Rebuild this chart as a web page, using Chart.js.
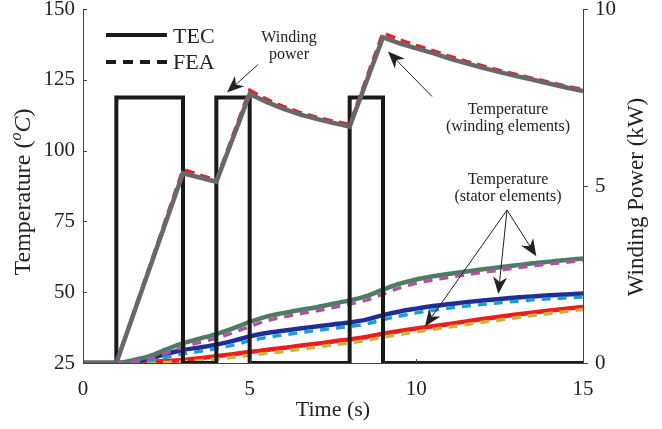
<!DOCTYPE html>
<html>
<head>
<meta charset="utf-8">
<script src="https://cdn.jsdelivr.net/npm/chart.js@4.4.1/dist/chart.umd.min.js"></script>
<style>
  html, body { margin: 0; padding: 0; background: #fff; }
</style>
</head>
<body>
<canvas id="chart" width="662" height="429"></canvas>
<script>
// winding power (kW), stepped
const powerTime = [0, 1, 3, 4, 5, 8, 9, 15];
const powerKW   = [0, 7.5, 0, 7.5, 0, 7.5, 0, 0];

// winding element temperature
const windTime = [0, 1, 3, 4, 5, 5.5, 6, 6.5, 7, 7.5, 8, 9, 9.5, 10, 10.5, 11, 11.5, 12, 12.5, 13, 13.5, 14, 14.5, 15];
const windTEC  = [25, 25, 92, 89, 120, 117.2, 114.8, 112.8, 111.2, 109.8, 108.5, 140, 137.9, 136.1, 134.4, 132.5, 130.8, 129.2, 127.7, 126.3, 125, 123.6, 122.3, 121];
const windFEA  = [25, 25, 93.3, 89.5, 121.3, 118.2, 115.6, 113.5, 111.8, 110.4, 109.2, 141.6, 139.1, 137.1, 135.3, 133.3, 131.5, 129.9, 128.3, 126.9, 125.5, 124.1, 122.8, 121.5];

// stator element temperatures
const statorTime = [0, 1, 1.5, 2, 2.5, 3, 3.5, 4, 4.5, 5, 5.5, 6, 6.5, 7, 7.5, 8, 8.5, 9, 9.5, 10, 10.5, 11, 11.5, 12, 12.5, 13, 13.5, 14, 14.5, 15];
const stator1TEC = [25, 25, 26, 27.4, 29.8, 32, 33.6, 35.2, 37.2, 39.5, 41.4, 42.6, 43.7, 44.7, 45.9, 47.1, 48.6, 50.9, 53, 54.5, 55.6, 56.5, 57.3, 58.1, 58.8, 59.5, 60.2, 60.8, 61.4, 61.9];
const stator1FEA = [25, 25, 25.6, 26.6, 28.5, 30.6, 32.3, 33.8, 35.7, 37.9, 39.9, 41.2, 42.4, 43.4, 44.6, 45.8, 47.2, 49.3, 51.5, 53.1, 54.3, 55.3, 56.2, 57, 57.8, 58.6, 59.3, 60, 60.6, 61.2];
const stator2TEC = [25, 25, 25.6, 26.6, 28.2, 29.6, 30.5, 31.5, 32.8, 34.4, 35.6, 36.4, 37.2, 37.9, 38.6, 39.3, 40.3, 41.9, 43.2, 44.2, 45.1, 45.8, 46.5, 47.1, 47.6, 48.1, 48.5, 48.9, 49.2, 49.5];
const stator2FEA = [25, 25, 25.3, 25.9, 27, 28.2, 29.1, 30.1, 31.3, 32.8, 34, 34.9, 35.7, 36.5, 37.2, 37.9, 38.8, 40.3, 41.6, 42.7, 43.6, 44.4, 45.1, 45.7, 46.3, 46.8, 47.3, 47.7, 48, 48.3];
const stator3TEC = [25, 25, 25.2, 25.4, 25.7, 26.1, 26.7, 27.4, 28.1, 28.9, 29.6, 30.3, 31.1, 31.8, 32.6, 33.3, 34.2, 35.3, 36.3, 37.2, 38, 38.8, 39.7, 40.5, 41.3, 42.1, 42.8, 43.5, 44.2, 44.8];
const stator3FEA = [25, 25, 25, 25.1, 25.2, 25.4, 25.8, 26.4, 27, 27.7, 28.4, 29.1, 29.9, 30.6, 31.4, 32.1, 33, 34.1, 35.1, 36, 36.9, 37.7, 38.6, 39.4, 40.2, 41, 41.8, 42.5, 43.2, 43.9];

const xTicks = [0, 5, 10, 15];
const tempTicks = [25, 50, 75, 100, 125, 150];
const powerTicks = [0, 5, 10];

const SERIF = "'Liberation Serif', 'DejaVu Serif', serif";
const INK = '#222';

function pts(xs, ys) {
    return xs.map((v, i) => ({x: v, y: ys[i]}));
}

function line(data, color, width, dash, axis, order, smooth) {
    return {
        data: data,
        borderColor: color,
        borderWidth: width,
        borderDash: dash || [],
        pointRadius: 0,
        fill: false,
        yAxisID: axis,
        order: order,
        tension: smooth ? 0.3 : 0,
        cubicInterpolationMode: smooth ? 'monotone' : 'default'
    };
}

function arrow(ctx, x1, y1, x2, y2) {
    let ang = Math.atan2(y2 - y1, x2 - x1);
    let len = 17, half = 7, back = 5;
    ctx.beginPath();
    ctx.moveTo(x1, y1);
    ctx.lineTo(x2 - Math.cos(ang) * (len - back), y2 - Math.sin(ang) * (len - back));
    ctx.lineWidth = 1;
    ctx.strokeStyle = INK;
    ctx.stroke();
    ctx.save();
    ctx.translate(x2, y2);
    ctx.rotate(ang);
    ctx.beginPath();
    ctx.moveTo(0, 0);
    ctx.lineTo(-len, -half);
    ctx.lineTo(-len + back, 0);
    ctx.lineTo(-len, half);
    ctx.closePath();
    ctx.fillStyle = INK;
    ctx.fill();
    ctx.restore();
}

const decorations = {
    id: 'decorations',
    afterDraw(chart) {
        const ctx = chart.ctx;
        const a = chart.chartArea;
        const x = chart.scales.x, y = chart.scales.y, y2 = chart.scales.y2;
        const px = (t) => x.getPixelForValue(t);
        const py = (v) => y.getPixelForValue(v);
        ctx.save();

        // tick marks: inward on left and bottom, outward on right
        ctx.strokeStyle = '#444';
        ctx.lineWidth = 1;
        ctx.beginPath();
        for (let v of tempTicks) {
            let yy = Math.round(py(v)) + 0.5;
            ctx.moveTo(a.left, yy); ctx.lineTo(a.left + 4, yy);
        }
        for (let v of xTicks) {
            let xx = Math.round(px(v)) + 0.5;
            ctx.moveTo(xx, a.bottom); ctx.lineTo(xx, a.bottom - 4);
        }
        for (let v of powerTicks) {
            let yy = Math.round(y2.getPixelForValue(v)) + 0.5;
            ctx.moveTo(a.right, yy); ctx.lineTo(a.right + 5, yy);
        }
        ctx.stroke();

        // axis titles
        ctx.fillStyle = INK;
        ctx.textBaseline = 'middle';
        ctx.textAlign = 'center';
        ctx.font = '22px ' + SERIF;
        ctx.fillText('Time (s)', (a.left + a.right) / 2, 410);

        ctx.save();
        ctx.translate(637, 197);
        ctx.rotate(-Math.PI / 2);
        ctx.font = '23px ' + SERIF;
        ctx.fillText('Winding Power (kW)', 0, 0);
        ctx.restore();

        // left title with superscript italic o and italic C
        ctx.save();
        ctx.translate(24, 192);
        ctx.rotate(-Math.PI / 2);
        let parts = [
            {t: 'Temperature (', f: '24px ' + SERIF, dy: 0},
            {t: 'o', f: 'italic 16px ' + SERIF, dy: -7},
            {t: 'C', f: 'italic 24px ' + SERIF, dy: 0},
            {t: ')', f: '24px ' + SERIF, dy: 0}
        ];
        let total = 0;
        for (let p of parts) { ctx.font = p.f; p.w = ctx.measureText(p.t).width; total += p.w; }
        ctx.textAlign = 'left';
        let cx = -total / 2;
        for (let p of parts) { ctx.font = p.f; ctx.fillText(p.t, cx, p.dy); cx += p.w; }
        ctx.restore();

        // legend
        ctx.lineWidth = 4;
        ctx.strokeStyle = '#1a1a1a';
        ctx.beginPath(); ctx.moveTo(106, 35); ctx.lineTo(167, 35); ctx.stroke();
        ctx.setLineDash([10, 7]);
        ctx.beginPath(); ctx.moveTo(106, 62); ctx.lineTo(167, 62); ctx.stroke();
        ctx.setLineDash([]);
        ctx.textAlign = 'left';
        ctx.font = '22px ' + SERIF;
        ctx.fillText('TEC', 173, 37);
        ctx.fillText('FEA', 173, 63);

        // annotations
        ctx.textAlign = 'center';
        ctx.font = '16px ' + SERIF;
        ctx.fillText('Winding', px(6.18), py(139.9));
        ctx.fillText('power', px(6.18), py(133.9));
        arrow(ctx, px(5.25), py(130.4), px(4.32), py(120.5));

        ctx.fillText('Temperature', px(12.75), py(114.5));
        ctx.fillText('(winding elements)', px(12.75), py(108.5));
        arrow(ctx, px(10.47), py(119.1), px(9.15), py(135.0));

        ctx.fillText('Temperature', px(12.75), py(89.8));
        ctx.fillText('(stator elements)', px(12.75), py(83.8));
        arrow(ctx, px(12.72), py(79), px(13.6), py(62.7));
        arrow(ctx, px(12.72), py(79), px(12.46), py(49.4));
        arrow(ctx, px(12.72), py(79), px(10.26), py(37.9));

        ctx.restore();
    }
};

let power = line(pts(powerTime, powerKW), '#1a1a1a', 4, null, 'y2', 1, false);
power.stepped = 'before';

const chart = new Chart(document.getElementById('chart'), {
    type: 'line',
    data: {
        datasets: [
            power,
            line(pts(windTime, windTEC), '#686868', 4.5, null, 'y', 0, false),
            line(pts(windTime, windFEA), '#e5222a', 3.5, [10, 6], 'y', 0, false),
            line(pts(statorTime, stator1TEC), '#4a7d63', 4.5, null, 'y', 3, true),
            line(pts(statorTime, stator1FEA), '#b0529c', 3.5, [9, 7], 'y', 2, true),
            line(pts(statorTime, stator2TEC), '#1f2d99', 4.5, null, 'y', 3, true),
            line(pts(statorTime, stator2FEA), '#1b9fd0', 3.5, [9, 7], 'y', 2, true),
            line(pts(statorTime, stator3TEC), '#ee1c1c', 4.5, null, 'y', 3, true),
            line(pts(statorTime, stator3FEA), '#c8b43c', 3.5, [9, 7], 'y', 2, true)
        ]
    },
    options: {
        responsive: false,
        animation: false,
        events: [],
        layout: { padding: { top: 9, left: 0, right: 0, bottom: 0 } },
        plugins: { legend: { display: false }, tooltip: { enabled: false } },
        scales: {
            x: {
                type: 'linear', min: 0, max: 15,
                grid: { display: false },
                border: { display: true, color: '#444', width: 1 },
                afterBuildTicks: (s) => { s.ticks = xTicks.map((v) => ({value: v})); },
                ticks: { color: INK, font: { family: SERIF, size: 21 }, padding: 6, maxRotation: 0 },
                afterFit: (s) => { s.height = 66; s.paddingLeft = 0; s.paddingRight = 0; }
            },
            y: {
                position: 'left', min: 25, max: 150,
                grid: { display: false },
                border: { display: true, color: '#444', width: 1 },
                afterBuildTicks: (s) => { s.ticks = tempTicks.map((v) => ({value: v})); },
                ticks: { color: INK, font: { family: SERIF, size: 21 }, padding: 0 },
                afterFit: (s) => { s.width = 83; s.paddingTop = 0; s.paddingBottom = 0; }
            },
            y2: {
                position: 'right', min: 0, max: 10,
                grid: { display: false },
                border: { display: true, color: '#444', width: 1 },
                afterBuildTicks: (s) => { s.ticks = powerTicks.map((v) => ({value: v})); },
                ticks: { color: INK, font: { family: SERIF, size: 21 }, padding: 4 },
                afterFit: (s) => { s.width = 79; s.paddingTop = 0; s.paddingBottom = 0; }
            }
        }
    },
    plugins: [decorations]
});
</script>
</body>
</html>
